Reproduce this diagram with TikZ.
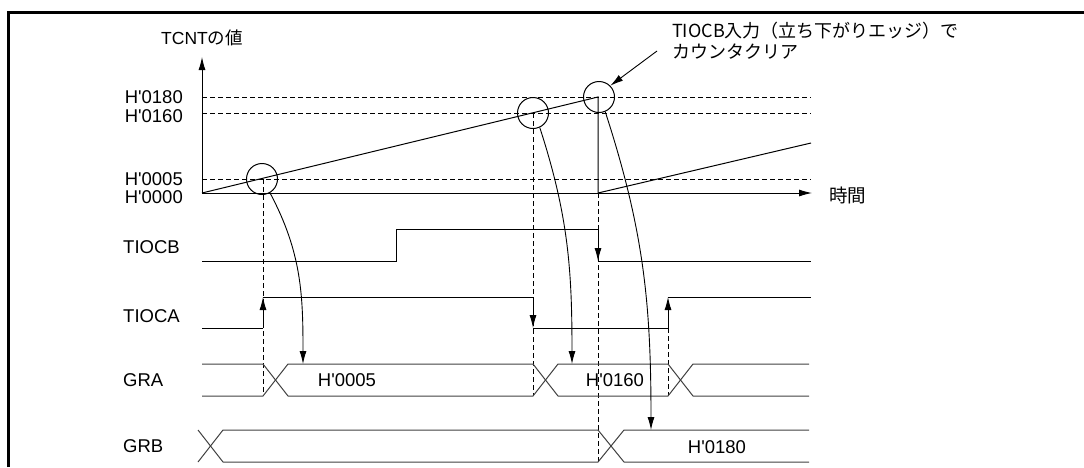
\documentclass[tikz,border=0pt]{standalone}
\usepackage{fontspec}
\setmainfont{Liberation Sans}
\newfontfamily\jp{Noto Sans CJK JP}
\usetikzlibrary{arrows.meta}
\newcommand{\q}{\textquotesingle}
\begin{document}
\begin{tikzpicture}[x=1pt,y=-1pt,
  font=\fontsize{18.5}{21}\selectfont,
  sig/.style={line width=1pt},
  bus/.style={line width=1pt, draw=black!75},
  guide/.style={line width=0.8pt, dash pattern=on 4.5pt off 3.5pt},
  arr/.style={line width=0.9pt,-{Latex[length=13pt,width=7pt]}},
  ring/.style={circle,draw,line width=1pt,minimum size=31pt,inner sep=0pt},
  lbl/.style={inner sep=0pt}]
\useasboundingbox (0,0) rectangle (1084,467);
\draw[line width=3pt] (8,467) -- (8,12) -- (1084,12);

% axes
\coordinate (O) at (202,193);
\coordinate (Ytop) at (202,57);
\coordinate (Xend) at (812,193);
\draw[arr] (O) -- (Ytop);
\draw[arr] (O) -- (Xend);
\node[lbl,font=\fontsize{17.5}{21}\selectfont] (ylab) at (202,38) {TCNT{\jp の値}};
\node[lbl,anchor=west] (xlab) at (829,195) {\jp 時間};

% value labels
\node[lbl,anchor=east] (v180) at (183,97) {H\q 0180};
\node[lbl,anchor=east] (v160) at (183,116) {H\q 0160};
\node[lbl,anchor=east] (v005) at (183,179) {H\q 0005};
\node[lbl,anchor=east] (v000) at (183,197) {H\q 0000};

% guide lines
\coordinate (g180a) at (202,97);  \coordinate (g180b) at (811,97);
\coordinate (g160a) at (202,113); \coordinate (g160b) at (811,113);
\coordinate (g005a) at (202,179); \coordinate (g005b) at (811,179);
\draw[guide] (g180a) -- (g180b);
\draw[guide] (g160a) -- (g160b);
\draw[guide] (g005a) -- (g005b);

% counter ramp
\coordinate (peak) at (598,97);
\coordinate (clr) at (598,193);
\coordinate (rampend) at (811,143);
\draw[sig] (O) -- (peak) -- (clr) -- (rampend);

% circles
\node[ring] (c1) at (262,179) {};
\node[ring] (c2) at (533,113) {};
\node[ring] (c3) at (599,97) {};

% note
\node[lbl,anchor=north west,align=left,font=\fontsize{18}{20.5}\selectfont\jp] (note) at (672,22)
  {TIOCB入力（立ち下がりエッジ）で\\カウンタクリア};
\coordinate (nstart) at (657,51);
\draw[arr] (nstart) -- (c3.45);

% signal labels
\node[lbl,anchor=west] (lb) at (123,247) {TIOCB};
\node[lbl,anchor=west] (la) at (123,316) {TIOCA};
\node[lbl,anchor=west] (lgra) at (123,380) {GRA};
\node[lbl,anchor=west] (lgrb) at (123,446) {GRB};

% dashed verticals
\draw[guide] (263,179) -- (263,396);
\draw[guide] (533,113) -- (533,396);
\draw[guide] (598,193) -- (598,462);
\draw[guide] (668,328) -- (668,396);

% TIOCB
\coordinate (bf1) at (598,229);
\coordinate (bf2) at (598,261);
\draw[sig] (202,261) -- (396,261) -- (396,229) -- (bf1);
\draw[arr] (bf1) -- (bf2);
\draw[sig] (bf2) -- (811,261);

% TIOCA
\coordinate (ar1a) at (263,328); \coordinate (ar1b) at (263,297);
\coordinate (af1a) at (533,297); \coordinate (af1b) at (533,328);
\coordinate (ar2a) at (668,328); \coordinate (ar2b) at (668,297);
\draw[sig] (202,328) -- (ar1a);
\draw[arr] (ar1a) -- (ar1b);
\draw[sig] (ar1b) -- (af1a);
\draw[arr] (af1a) -- (af1b);
\draw[sig] (af1b) -- (ar2a);
\draw[arr] (ar2a) -- (ar2b);
\draw[sig] (ar2b) -- (811,297);

% GRA
\draw[bus] (202,364) -- (263,364) -- (288,396) -- (533,396) -- (558,364) -- (668,364) -- (693,396) -- (809,396);
\draw[bus] (202,396) -- (263,396) -- (288,364) -- (533,364) -- (558,396) -- (668,396) -- (693,364) -- (809,364);
\node[lbl] (gra1) at (347,380) {H\q 0005};
\node[lbl] (gra2) at (615,380) {H\q 0160};

% GRB
\draw[bus] (198,430) -- (223,462) -- (598,462) -- (624,430) -- (809,430);
\draw[bus] (198,462) -- (223,430) -- (598,430) -- (624,462) -- (809,462);
\node[lbl] (grb1) at (717,447) {H\q 0180};

% transfer arrows
\coordinate (t1) at (303,364);
\coordinate (t2) at (572,364);
\coordinate (t3) at (651,430);
\draw[arr] (c1.-60) to[out=-62,in=90] (t1);
\draw[arr] (c2.-65) to[out=-72,in=90] (t2);
\draw[arr] (c3.-67) to[out=-72,in=90] (t3);
\end{tikzpicture}
\end{document}
